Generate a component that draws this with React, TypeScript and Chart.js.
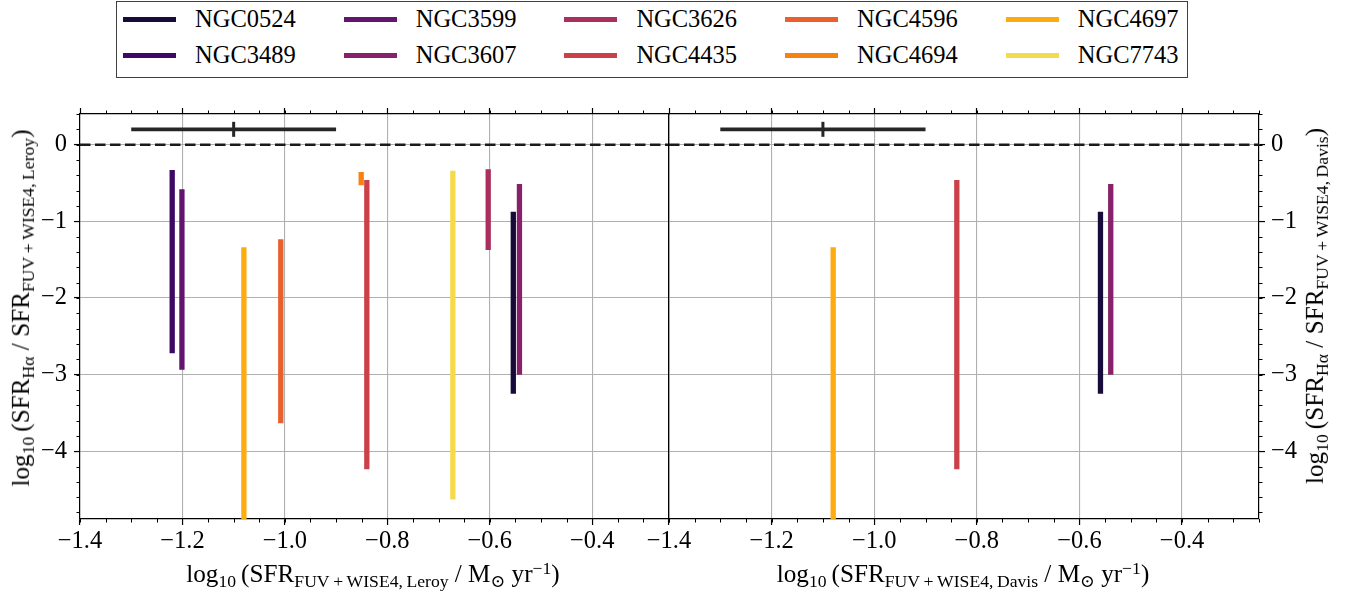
import React, { useEffect, useRef } from "react";
import { Chart, registerables } from "chart.js";

Chart.register(...registerables);

const FONT = '"Liberation Serif", "Times New Roman", "DejaVu Serif", serif';

// ---------------- data ----------------
const galaxies = ["NGC0524", "NGC3489", "NGC3599", "NGC3607", "NGC3626", "NGC4435", "NGC4596", "NGC4694", "NGC4697", "NGC7743"];
const galaxyColors = ["#160b39", "#3c0a64", "#62146e", "#86216a", "#aa2f5e", "#ca4149", "#e8612c", "#f68212", "#fcab10", "#f5db4b"];

// Left panel: SFR(FUV+WISE4, Leroy)
const leroyX = [-0.554, -1.22, -1.201, -0.542, -0.603, -0.84, -1.008, -0.851, -1.08, -0.672];
const leroyHigh = [-0.876, -0.33, -0.583, -0.513, -0.322, -0.461, -1.235, -0.357, -1.339, -0.339];
const leroyLow = [-3.252, -2.722, -2.939, -3.004, -1.374, -4.235, -3.635, -0.53, -5.3, -4.63];

// Right panel: SFR(FUV+WISE4, Davis)
const davisGalaxies = ["NGC0524", "NGC3607", "NGC4435", "NGC4697"];
const davisX = [-0.559, -0.539, -0.839, -1.08];
const davisHigh = [-0.874, -0.513, -0.461, -1.339];
const davisLow = [-3.252, -3.004, -4.235, -5.3];

// typical uncertainty bar
const errX = -1.1;
const errY = 0.2;
const errXerr = 0.2;

// reference line
const refLineY = 0;

// axes
const xLimits = [-1.4, -0.25];
const yLimits = [-4.885, 0.4];
const xTickValues = [-1.4, -1.2, -1.0, -0.8, -0.6, -0.4];
const yTickValues = [0, -1, -2, -3, -4];
const xMinorStep = 0.05;
const yMinorStep = 0.2;

// ---------------- helpers ----------------
const colorOf = (name: string) => galaxyColors[galaxies.indexOf(name)];
const fmtX = (v: number) => (v < -1e-9 ? "\u2212" : "") + Math.abs(v).toFixed(1);
const fmtY = (v: number) => (v < -1e-9 ? "\u2212" : "") + Math.abs(Math.round(v)).toString();

function minorValues(lo: number, hi: number, step: number) {
  const out: number[] = [];
  const start = Math.ceil(lo / step - 1e-6);
  const end = Math.floor(hi / step + 1e-6);
  for (let k = start; k <= end; k++) out.push(k * step);
  return out;
}

const minorTickPlugin = {
  id: "minorTicks",
  afterDraw(chart: any, _args: any, opts: any) {
    const { ctx, chartArea: a } = chart;
    const xs = chart.scales.x;
    const ys = chart.scales.y;
    const len = opts.len || 3.5;
    ctx.save();
    ctx.strokeStyle = "#000";
    ctx.lineWidth = 1;
    ctx.beginPath();
    for (const v of minorValues(xLimits[0], xLimits[1], xMinorStep)) {
      const p = Math.round(xs.getPixelForValue(v)) + 0.5;
      if (p < a.left - 0.6 || p > a.right + 0.6) continue;
      ctx.moveTo(p, a.bottom);
      ctx.lineTo(p, a.bottom + len);
      ctx.moveTo(p, a.top);
      ctx.lineTo(p, a.top - len);
    }
    for (const v of minorValues(yLimits[0], yLimits[1], yMinorStep)) {
      const p = Math.round(ys.getPixelForValue(v)) + 0.5;
      if (p < a.top - 0.6 || p > a.bottom + 0.6) continue;
      if (opts.ySide === "left") {
        ctx.moveTo(a.left, p);
        ctx.lineTo(a.left - len, p);
      } else {
        ctx.moveTo(a.right, p);
        ctx.lineTo(a.right + len, p);
      }
    }
    ctx.stroke();
    ctx.restore();
  },
};

function buildDatasets(names: string[], xs: number[], hi: number[], lo: number[]) {
  const ds: any[] = names.map((n, i) => ({
    label: n,
    data: [
      { x: xs[i], y: hi[i] },
      { x: xs[i], y: lo[i] },
    ],
    showLine: true,
    borderColor: colorOf(n),
    backgroundColor: colorOf(n),
    borderWidth: 5.3,
    borderCapStyle: "butt",
    pointRadius: 0,
    clip: 0,
    order: 10 + names.length - i,
  }));
  ds.push({
    label: "ref",
    data: [
      { x: xLimits[0], y: refLineY },
      { x: xLimits[1], y: refLineY },
    ],
    showLine: true,
    borderColor: "#1a1a1a",
    borderWidth: 2.5,
    borderDash: [10.5, 4.5],
    pointRadius: 0,
    clip: 0,
    order: 3,
  });
  ds.push({
    label: "errbar",
    data: [
      { x: errX - errXerr, y: errY },
      { x: errX + errXerr, y: errY },
    ],
    showLine: true,
    borderColor: "#262626",
    borderWidth: 3.6,
    borderCapStyle: "butt",
    pointRadius: 0,
    clip: 0,
    order: 2,
  });
  ds.push({
    label: "errmark",
    data: [{ x: errX, y: errY }],
    showLine: false,
    pointStyle: "line",
    pointRotation: 90,
    pointRadius: 7.5,
    pointBorderWidth: 3,
    pointBorderColor: "#262626",
    pointBackgroundColor: "#262626",
    clip: 0,
    order: 1,
  });
  return ds;
}

function makeConfig(side: "left" | "right", datasets: any[], canvasW: number) {
  const isLeft = side === "left";
  const tickFont = { family: FONT, size: 24.5 };
  const border = { display: true, color: "#000", width: 1.2 };
  const setX = (s: any) => {
    s.ticks = xTickValues.map((v) => ({ value: v }));
  };
  const setY = (s: any) => {
    s.ticks = yTickValues.map((v) => ({ value: v }));
  };
  const labelAxisWidth = isLeft ? 80 : 95;
  const otherAxisWidth = isLeft ? canvasW - 669 : 50;
  return {
    type: "scatter",
    data: { datasets },
    options: {
      animation: false,
      responsive: false,
      maintainAspectRatio: false,
      devicePixelRatio: 1,
      events: [],
      layout: { padding: { top: 108, bottom: 0, left: 0, right: 0 } },
      plugins: {
        legend: { display: false },
        tooltip: { enabled: false },
        title: { display: false },
        minorTicks: { ySide: isLeft ? "left" : "right", len: 3.5 },
      },
      scales: {
        x: {
          type: "linear",
          position: "bottom",
          min: xLimits[0],
          max: xLimits[1],
          bounds: "data",
          afterBuildTicks: setX,
          afterFit: (s: any) => {
            s.height = 79;
          },
          ticks: {
            font: tickFont,
            color: "#000",
            padding: 2,
            maxRotation: 0,
            minRotation: 0,
            autoSkip: false,
            callback: (v: any) => fmtX(Number(v)),
          },
          grid: {
            color: "#b0b0b0",
            lineWidth: 1.1,
            drawOnChartArea: true,
            drawTicks: true,
            tickLength: 6,
            tickColor: "#000",
            tickWidth: 1.2,
          },
          border,
        },
        xTop: {
          type: "linear",
          position: "top",
          min: xLimits[0],
          max: xLimits[1],
          bounds: "data",
          afterBuildTicks: setX,
          afterFit: (s: any) => {
            s.height = 6;
          },
          ticks: { display: false },
          grid: {
            drawOnChartArea: false,
            drawTicks: true,
            tickLength: 6,
            tickColor: "#000",
            tickWidth: 1.2,
          },
          border,
        },
        y: {
          type: "linear",
          position: isLeft ? "left" : "right",
          min: yLimits[0],
          max: yLimits[1],
          bounds: "data",
          afterBuildTicks: setY,
          afterFit: (s: any) => {
            s.width = labelAxisWidth;
          },
          ticks: {
            font: tickFont,
            color: "#000",
            padding: isLeft ? 7 : 6,
            autoSkip: false,
            callback: (v: any) => fmtY(Number(v)),
          },
          grid: {
            color: "#b0b0b0",
            lineWidth: 1.1,
            drawOnChartArea: true,
            drawTicks: true,
            tickLength: 6,
            tickColor: "#000",
            tickWidth: 1.2,
          },
          border,
        },
        y2: {
          type: "linear",
          position: isLeft ? "right" : "left",
          min: yLimits[0],
          max: yLimits[1],
          bounds: "data",
          afterBuildTicks: setY,
          afterFit: (s: any) => {
            s.width = otherAxisWidth;
          },
          ticks: { display: false },
          grid: { drawOnChartArea: false, drawTicks: false },
          border,
        },
      },
    },
    plugins: [minorTickPlugin],
  };
}

// ---------------- text helpers ----------------
const Sub = ({ children }: { children: any }) => (
  <span style={{ fontSize: "0.7em", position: "relative", top: "0.3em" }}>{children}</span>
);
const Sup = ({ children }: { children: any }) => (
  <span style={{ fontSize: "0.7em", position: "relative", top: "-0.45em" }}>{children}</span>
);

const XTitle = ({ method }: { method: string }) => (
  <span>
    log<Sub>10</Sub>
    {"\u2009"}(SFR<Sub>FUV{"\u2009"}+{"\u2009"}WISE4,{"\u2009"}{method}</Sub> / M<Sub>{"\u2299"}</Sub> yr<Sup>{"\u2212"}1</Sup>)
  </span>
);
const YTitle = ({ method }: { method: string }) => (
  <span>
    log<Sub>10</Sub>
    {"\u2009"}(SFR<Sub>H{"\u03b1"}</Sub> / SFR<Sub>FUV{"\u2009"}+{"\u2009"}WISE4,{"\u2009"}{method}</Sub>)
  </span>
);

const LEFT_W = 690;
const RIGHT_LEFT = 619;
const RIGHT_W = 1354 - RIGHT_LEFT;

export default function App() {
  const leftRef = useRef<HTMLCanvasElement>(null);
  const rightRef = useRef<HTMLCanvasElement>(null);

  useEffect(() => {
    const c1 = new Chart(
      leftRef.current as HTMLCanvasElement,
      makeConfig("left", buildDatasets(galaxies, leroyX, leroyHigh, leroyLow), LEFT_W) as any
    );
    const c2 = new Chart(
      rightRef.current as HTMLCanvasElement,
      makeConfig("right", buildDatasets(davisGalaxies, davisX, davisHigh, davisLow), RIGHT_W) as any
    );
    return () => {
      c1.destroy();
      c2.destroy();
    };
  }, []);

  const textStyle: any = {
    position: "absolute",
    whiteSpace: "nowrap",
    fontFamily: FONT,
    fontSize: "24.5px",
    lineHeight: "24.5px",
    color: "#000",
  };
  const titleStyle: any = { ...textStyle, fontSize: "25.2px", lineHeight: "25.2px" };

  return (
    <div
      style={{
        position: "absolute",
        left: 0,
        top: 0,
        width: 1354,
        height: 598,
        background: "#fff",
        overflow: "hidden",
        fontFamily: FONT,
      }}
    >
      <canvas
        ref={leftRef}
        width={LEFT_W}
        height={598}
        style={{ position: "absolute", left: 0, top: 0, width: LEFT_W, height: 598 }}
      />
      <canvas
        ref={rightRef}
        width={RIGHT_W}
        height={598}
        style={{ position: "absolute", left: RIGHT_LEFT, top: 0, width: RIGHT_W, height: 598 }}
      />

      {/* legend */}
      <div
        style={{
          position: "absolute",
          left: 116,
          top: 1,
          width: 1072,
          height: 77,
          border: "1.5px solid #404040",
          boxSizing: "border-box",
          background: "#fff",
        }}
      />
      {galaxies.map((g, i) => {
        const col = Math.floor(i / 2);
        const row = i % 2;
        const x = 123 + col * 220.7;
        const y = row === 0 ? 19 : 55;
        return (
          <React.Fragment key={g}>
            <div
              style={{
                position: "absolute",
                left: x,
                top: y - 2.5,
                width: 53,
                height: 5,
                background: galaxyColors[i],
              }}
            />
            <div style={{ ...textStyle, left: x + 72, top: y - 12.4 }}>{g}</div>
          </React.Fragment>
        );
      })}

      {/* x titles */}
      <div style={{ ...titleStyle, left: 373, top: 561, transform: "translateX(-50%)" }}>
        <XTitle method="Leroy" />
      </div>
      <div style={{ ...titleStyle, left: 963, top: 561, transform: "translateX(-50%)" }}>
        <XTitle method="Davis" />
      </div>

      {/* y titles */}
      <div
        style={{
          ...titleStyle,
          left: 22,
          top: 308,
          transform: "translate(-50%, -50%) rotate(-90deg)",
        }}
      >
        <YTitle method="Leroy" />
      </div>
      <div
        style={{
          ...titleStyle,
          left: 1316,
          top: 306,
          transform: "translate(-50%, -50%) rotate(-90deg)",
        }}
      >
        <YTitle method="Davis" />
      </div>
    </div>
  );
}
